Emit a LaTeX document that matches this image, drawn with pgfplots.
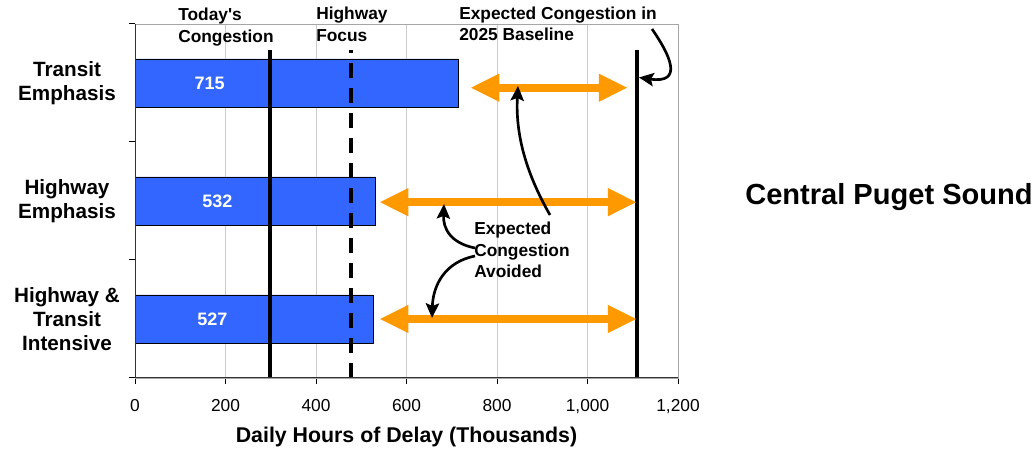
\documentclass[border=0pt]{standalone}
\usepackage{fontspec}
\setmainfont{Liberation Sans}
\usepackage{pgfplots}
\pgfplotsset{compat=1.18}
\usetikzlibrary{arrows.meta}
\definecolor{barblue}{HTML}{3366FF}
\definecolor{arrorange}{HTML}{FF9900}
\definecolor{gridgray}{HTML}{CCCCCC}
\definecolor{boxgray}{HTML}{A6A6A6}

\begin{document}
\begin{tikzpicture}
\useasboundingbox (0,0) rectangle (776.25pt,336.75pt);
\begin{axis}[
    at={(101.25pt,53.25pt)}, anchor=south west,
    width=407.25pt, height=265.5pt, scale only axis,
    xmin=0, xmax=1200, ymin=0, ymax=3,
    xtick={0,200,...,1200},
    ytick={0,1,2,3}, yticklabels={},
    extra y ticks={0.5,1.5,2.5},
    extra y tick labels={{Highway \&\\Transit\\Intensive},{Highway\\Emphasis},{Transit\\Emphasis}},
    extra y tick style={major tick length=0pt},
    xmajorgrids, grid style={gridgray, line width=0.75pt},
    axis line style={boxgray},
    tick style={black, line width=0.75pt},
    tick align=outside, xtick pos=left, ytick pos=left,
    major tick length=4.5pt,
    /pgf/number format/assume math mode=true,
    /pgf/number format/1000 sep={,},
    xticklabel style={font=\fontsize{13}{15}\selectfont, yshift=-8pt},
    yticklabel style={font=\fontsize{15.5}{18}\selectfont\bfseries, align=center, anchor=center, xshift=-51pt},
    xlabel={Daily Hours of Delay (Thousands)},
    xlabel style={font=\fontsize{16}{18}\selectfont\bfseries, at={(axis description cs:0.5,-0.1808)}, anchor=base},
]
% bars
\addplot[xbar, bar width=0.407, fill=barblue, draw=black, line width=0.6pt]
    coordinates {(715,2.5) (532,1.5) (527,0.5)};

% reference lines: today, highway focus, 2025 baseline
\addplot[black, line width=3pt] coordinates {(298,0) (298,2.78)};
\addplot[black, line width=3pt, dash pattern=on 11.25pt off 7.5pt] coordinates {(478,0) (478,2.78)};
\addplot[black, line width=3pt] coordinates {(1110,0) (1110,2.78)};

% congestion avoided
\addplot[arrorange, line width=5.8pt, {Triangle[length=21.75pt,width=19.5pt]}-{Triangle[length=21.75pt,width=19.5pt]}]
    coordinates {(741,2.46) (1089,2.46)};
\addplot[arrorange, line width=5.8pt, {Triangle[length=21.75pt,width=19.5pt]}-{Triangle[length=21.75pt,width=19.5pt]}]
    coordinates {(540,1.49) (1109,1.49)};
\addplot[arrorange, line width=5.8pt, {Triangle[length=21.75pt,width=19.5pt]}-{Triangle[length=21.75pt,width=19.5pt]}]
    coordinates {(540,0.5) (1109,0.5)};

\draw[black!80, line width=1pt] (rel axis cs:0,1) -- (rel axis cs:0,0) -- (rel axis cs:1,0);

\node[white, font=\fontsize{13.5}{15}\selectfont\bfseries] at (axis cs:165,2.5) {715};
\node[white, font=\fontsize{13.5}{15}\selectfont\bfseries] at (axis cs:182,1.5) {532};
\node[white, font=\fontsize{13.5}{15}\selectfont\bfseries] at (axis cs:171,0.5) {527};
\end{axis}

% annotations, in pixel units of the reference
\begin{scope}[x=0.75pt, y=-0.75pt, yshift=336.75pt]
\tikzset{lab/.style={font=\fontsize{13}{16}\selectfont\bfseries, inner sep=0pt, anchor=base west}}
\node[lab] at (178,20.7) {Today\textquotesingle s};
\node[lab] at (178,42.7) {Congestion};
\node[lab] at (316,20) {Highway};
\node[lab] at (316,41.7) {Focus};
\node[lab] at (459,19.5) {Expected Congestion in};
\node[lab] at (459,40.5) {2025 Baseline};
\node[lab] at (474,235) {Expected};
\node[lab] at (474,256.5) {Congestion};
\node[lab] at (474,278) {Avoided};
\node[font=\fontsize{21.8}{25}\selectfont\bfseries, inner sep=0pt, anchor=base west] at (745,205) {Central Puget Sound};

\tikzset{blk/.style={black, line width=2pt, -{Stealth[length=11pt,width=10pt,inset=2pt]}}}
\draw[blk] (652,29) .. controls (670,55) and (684,84) .. (639,77.5);
\draw[blk] (550,215) .. controls (530,180) and (515,140) .. (518,86);
\draw[blk] (475,248) .. controls (450,243) and (443,228) .. (444,204);
\draw[blk] (475,256) .. controls (445,262) and (433,285) .. (432,318);
\end{scope}
\end{tikzpicture}
\end{document}
